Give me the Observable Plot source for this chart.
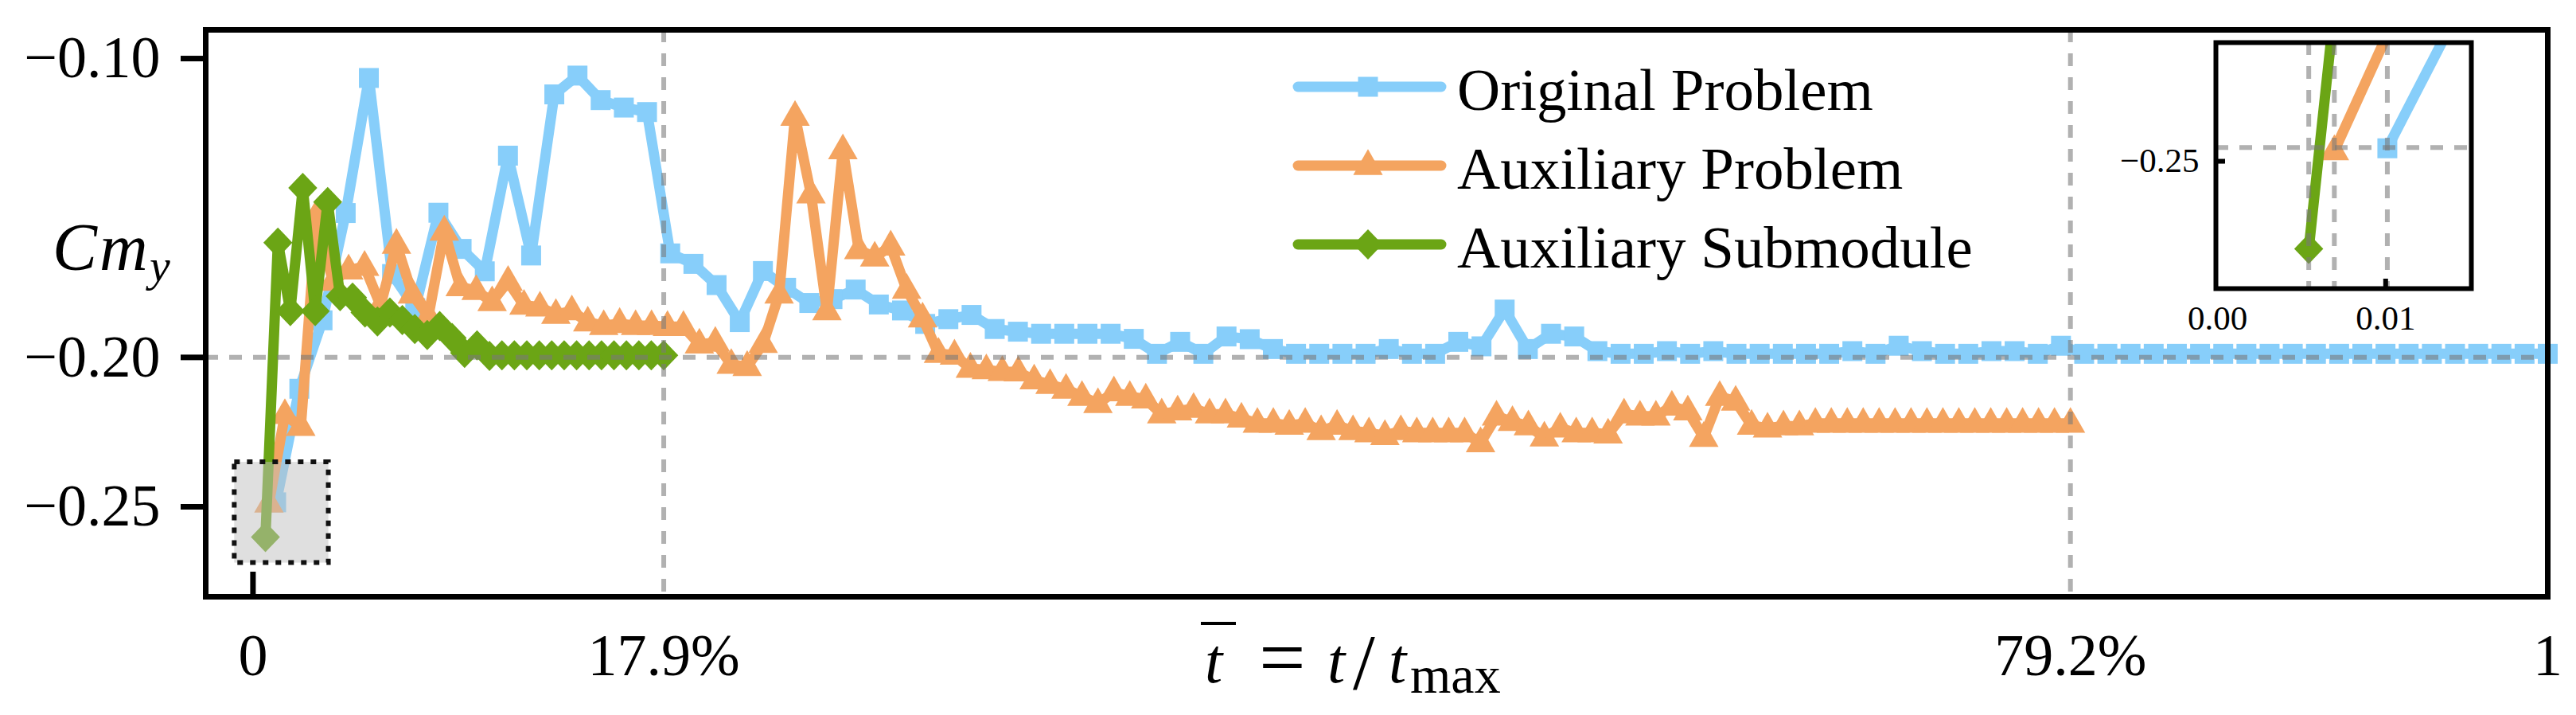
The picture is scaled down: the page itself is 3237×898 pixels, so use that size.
<!DOCTYPE html>
<html>
<head>
<meta charset="utf-8">
<script src="https://cdn.jsdelivr.net/npm/d3@7"></script>
<script src="https://cdn.jsdelivr.net/npm/@observablehq/plot@0.6"></script>
<style>
html, body { margin: 0; padding: 0; background: #ffffff; }
#wrap { position: relative; width: 3237px; height: 898px; overflow: hidden; background: #ffffff; }
#main { position: absolute; left: 0; top: 0; }
#inset { position: absolute; left: 2640px; top: 0; }
</style>
</head>
<body>
<div id="wrap"><div id="main"></div><div id="inset"></div></div>
<script>
// ---------------- data ----------------
const seriesNames = ["Original Problem", "Auxiliary Problem", "Auxiliary Submodule"];

// normalised time at which each run ends (last iteration)
const originalEnd = 1.0;
const auxProblemEnd = 0.792;
const auxSubmoduleEnd = 0.179;

// Cm_y at every iteration (iterations are equally spaced in time)
const originalY = [
  -0.2485, -0.2105, -0.1876, -0.1517, -0.1065, -0.1721, -0.1835, -0.1516, -0.1637, -0.1712,
  -0.1325, -0.1659, -0.1120, -0.1057, -0.1139, -0.1164, -0.1179, -0.1652, -0.1687, -0.1758,
  -0.1882, -0.1711, -0.1767, -0.1818, -0.1805, -0.1773, -0.1823, -0.1843, -0.1888, -0.1872,
  -0.1858, -0.1905, -0.1914, -0.1921, -0.1921, -0.1921, -0.1921, -0.1938, -0.1988, -0.1948,
  -0.1988, -0.1930, -0.1939, -0.1972, -0.1988, -0.1988, -0.1988, -0.1988, -0.1972, -0.1988,
  -0.1988, -0.1948, -0.1963, -0.1840, -0.1972, -0.1921, -0.1930, -0.1979, -0.1988, -0.1988,
  -0.1979, -0.1988, -0.1979, -0.1988, -0.1988, -0.1988, -0.1988, -0.1988, -0.1979, -0.1988,
  -0.1961, -0.1979, -0.1988, -0.1988, -0.1979, -0.1979, -0.1988, -0.1961, -0.1988, -0.1988,
  -0.1988, -0.1988, -0.1988, -0.1988, -0.1988, -0.1988, -0.1988, -0.1988, -0.1988, -0.1988,
  -0.1988, -0.1988, -0.1988, -0.1988, -0.1988, -0.1988, -0.1988, -0.1988, -0.1988
];

const auxProblemY = [
  -0.2488, -0.2192, -0.2232, -0.1523, -0.1746, -0.1708, -0.1696, -0.1826, -0.1622, -0.1789,
  -0.1863, -0.1578, -0.1764, -0.1777, -0.1814, -0.1746, -0.1826, -0.1832, -0.1857, -0.1845,
  -0.1882, -0.1894, -0.1887, -0.1894, -0.1894, -0.1897, -0.1897, -0.1956, -0.1950, -0.2024,
  -0.2031, -0.1954, -0.1789, -0.1194, -0.1454, -0.1845, -0.1306, -0.1640, -0.1665, -0.1628,
  -0.1773, -0.1869, -0.1987, -0.1993, -0.2037, -0.2042, -0.2048, -0.2049, -0.2076, -0.2091,
  -0.2107, -0.2131, -0.2155, -0.2116, -0.2131, -0.2140, -0.2190, -0.2180, -0.2171, -0.2190,
  -0.2190, -0.2204, -0.2221, -0.2221, -0.2228, -0.2221, -0.2246, -0.2228, -0.2246, -0.2253,
  -0.2262, -0.2246, -0.2253, -0.2253, -0.2253, -0.2253, -0.2286, -0.2197, -0.2215, -0.2230,
  -0.2267, -0.2237, -0.2253, -0.2253, -0.2257, -0.2190, -0.2197, -0.2197, -0.2164, -0.2180,
  -0.2268, -0.2131, -0.2147, -0.2228, -0.2237, -0.2230, -0.2230, -0.2221, -0.2221, -0.2221,
  -0.2221, -0.2221, -0.2221, -0.2221, -0.2221, -0.2221, -0.2221, -0.2221, -0.2221, -0.2221,
  -0.2221, -0.2221, -0.2221, -0.2221
];

const auxSubmoduleY = [
  -0.2601, -0.1616, -0.1845, -0.1433, -0.1845, -0.1480, -0.1795, -0.1800, -0.1850, -0.1880,
  -0.1850, -0.1875, -0.1905, -0.1925, -0.1895, -0.1935, -0.1985, -0.1960, -0.1995, -0.1993,
  -0.1993, -0.1993, -0.1993, -0.1993, -0.1993, -0.1993, -0.1993, -0.1993, -0.1993, -0.1993,
  -0.1993, -0.1993, -0.1993
];

// axes
const xTicks = [0, 0.179, 0.792, 1];
const xTickLabels = ["0", "17.9%", "79.2%", "1"];
const yTicks = [-0.10, -0.20, -0.25];
const refY = -0.20;
const refX = [0.179, 0.792];
const zoomBox = [{x1: -0.008, x2: 0.033, y1: -0.2688, y2: -0.2351}];

// inset
const insetXTicks = [0.00, 0.01];
const insetYTicks = [-0.25];
const insetGuideY = -0.2484;

// ---------------- styles ----------------
const FONT = "'Liberation Serif', 'Times New Roman', serif";
const colors = ["#87CEFA", "#F4A460", "#6BA515"];
const radii = [12.5, 16, 19];
const LINE_W = 13;
const FRAME_W = 7;
const GUIDE = {stroke: "#797979", strokeOpacity: 0.58, strokeWidth: 6, strokeDasharray: "16,14"};

function makeSymbol(shape) {
  return {
    draw(ctx, size) {
      const r = Math.sqrt(size / Math.PI);
      if (shape === "square") {
        ctx.moveTo(-r, -r); ctx.lineTo(r, -r); ctx.lineTo(r, r); ctx.lineTo(-r, r); ctx.closePath();
      } else if (shape === "triangle") {
        ctx.moveTo(0, -1.29 * r); ctx.lineTo(1.16 * r, 0.73 * r); ctx.lineTo(-1.16 * r, 0.73 * r); ctx.closePath();
      } else {
        ctx.moveTo(0, -r); ctx.lineTo(0.96 * r, 0); ctx.lineTo(0, r); ctx.lineTo(-0.96 * r, 0); ctx.closePath();
      }
    }
  };
}
const symbols = [makeSymbol("square"), makeSymbol("triangle"), makeSymbol("diamond")];

// build tables
const seriesY = [originalY, auxProblemY, auxSubmoduleY];
const seriesEnd = [originalEnd, auxProblemEnd, auxSubmoduleEnd];
const tables = seriesY.map((ys, s) => ys.map((y, i) => ({x: (i + 1) / ys.length * seriesEnd[s], y})));
const firstXs = tables.map(t => t[0].x);
const xLabelMap = new Map(xTicks.map((t, i) => [t, xTickLabels[i]]));
const fmt2 = d3.format(".2f");

function seriesMarks(extra) {
  const out = [];
  tables.forEach((d, s) => {
    out.push(Plot.line(d, {x: "x", y: "y", stroke: colors[s], strokeWidth: LINE_W, strokeLinejoin: "round", ...extra}));
    out.push(Plot.dot(d, {x: "x", y: "y", symbol: symbols[s], r: radii[s], fill: colors[s], stroke: "none", ...extra}));
  });
  return out;
}

// ---------------- main chart ----------------
const W = 3237, H = 898;
const mT = 37, mB = 149, mL = 258, mR = 36;
const frameH = H - mT - mB;

const main = Plot.plot({
  width: W, height: H,
  marginLeft: mL, marginRight: mR, marginTop: mT, marginBottom: mB,
  style: {fontFamily: FONT, background: "transparent", color: "black"},
  x: {domain: [-0.0206, 1.0]},
  y: {domain: [-0.2801, -0.0904]},
  marks: [
    Plot.axisY({ticks: yTicks, tickFormat: fmt2, tickSize: 31, tickPadding: 26, fontSize: 74, strokeWidth: FRAME_W, label: null}),
    Plot.axisX({ticks: xTicks, tickFormat: d => xLabelMap.get(d), tickSize: 0, tickPadding: 46, fontSize: 74, label: null}),
    ...seriesMarks({}),
    Plot.ruleY([refY], GUIDE),
    Plot.ruleX(refX, GUIDE),
    Plot.rect(zoomBox, {x1: "x1", x2: "x2", y1: "y1", y2: "y2", fill: "#c0c0c0", fillOpacity: 0.5,
      stroke: "#111111", strokeWidth: 6, strokeDasharray: "7,9"}),
    Plot.tickX([0], {insetTop: frameH - 31, stroke: "black", strokeWidth: FRAME_W}),
    Plot.frame({stroke: "black", strokeWidth: FRAME_W})
  ]
});
document.getElementById("main").appendChild(main);

// legend, axis titles
const svg = d3.select(main);
const legendY = [109, 208, 307];
seriesNames.forEach((name, s) => {
  const y = legendY[s];
  const g = svg.append("g");
  g.append("line").attr("x1", 1631).attr("x2", 1811).attr("y1", y).attr("y2", y)
    .attr("stroke", colors[s]).attr("stroke-width", LINE_W).attr("stroke-linecap", "round");
  g.append("path").attr("d", d3.symbol(symbols[s], Math.PI * radii[s] * radii[s])())
    .attr("transform", `translate(1719,${y})`).attr("fill", colors[s]);
  g.append("text").attr("x", 1831).attr("y", y + 29).attr("font-family", FONT)
    .attr("text-anchor", "start").attr("font-size", 75).attr("fill", "black").text(name);
});

// y title: Cm_y
const yl = svg.append("text").attr("font-family", FONT).attr("font-size", 84)
  .attr("text-anchor", "start").attr("font-style", "italic").attr("fill", "black").attr("y", 339);
yl.append("tspan").attr("x", 66).text("C");
yl.append("tspan").attr("x", 125).text("m");
yl.append("tspan").attr("x", 188).attr("dy", 14).attr("font-size", 58).text("y");

// x title: t̄ = t / t_max
const xl = svg.append("text").attr("font-family", FONT).attr("font-size", 80)
  .attr("text-anchor", "start").attr("fill", "black").attr("y", 857);
xl.append("tspan").attr("x", 1514).attr("font-style", "italic").text("t");
xl.append("tspan").attr("x", 1582).attr("font-size", 104).attr("dy", 4).text("=");
xl.append("tspan").attr("x", 1668).attr("dy", -4).attr("font-style", "italic").text("t");
xl.append("tspan").attr("x", 1700).attr("font-size", 100).attr("dy", 8).text("/");
xl.append("tspan").attr("x", 1745).attr("dy", -8).attr("font-style", "italic").text("t");
xl.append("tspan").attr("x", 1772).attr("dy", 13).attr("font-size", 66).text("max");
svg.append("line").attr("x1", 1509).attr("x2", 1553).attr("y1", 783).attr("y2", 783)
  .attr("stroke", "black").attr("stroke-width", 4);

// ---------------- inset ----------------
const iW = 500, iH = 440, imL = 144, imR = 35, imT = 53, imB = 78;
const iFrameW = iW - imL - imR, iFrameH = iH - imT - imB;
const inset = Plot.plot({
  width: iW, height: iH,
  marginLeft: imL, marginRight: imR, marginTop: imT, marginBottom: imB,
  style: {fontFamily: FONT, background: "transparent", color: "black"},
  x: {domain: [-0.0001, 0.0151]},
  y: {domain: [-0.2647, -0.2363]},
  marks: [
    Plot.frame({fill: "white", stroke: "none"}),
    ...seriesMarks({clip: true}),
    Plot.ruleX(firstXs, GUIDE),
    Plot.ruleY([insetGuideY], GUIDE),
    Plot.tickX([insetXTicks[1]], {insetTop: iFrameH - 12, stroke: "black", strokeWidth: 6}),
    Plot.tickY(insetYTicks, {insetRight: iFrameW - 12, stroke: "black", strokeWidth: 6}),
    Plot.axisX({ticks: insetXTicks, tickFormat: fmt2, tickSize: 0, tickPadding: 21, fontSize: 43, label: null}),
    Plot.axisY({ticks: insetYTicks, tickFormat: fmt2, tickSize: 0, tickPadding: 21, fontSize: 43, label: null}),
    Plot.frame({stroke: "black", strokeWidth: 6})
  ]
});
document.getElementById("inset").appendChild(inset);
</script>
</body>
</html>
